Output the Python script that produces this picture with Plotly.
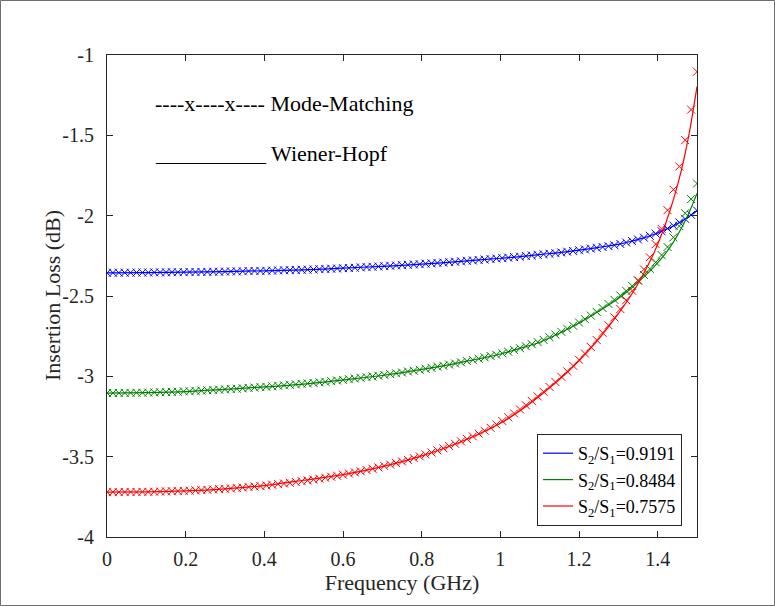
import numpy as np
import plotly.graph_objects as go

# Frequency sweep (GHz) used by the mode-matching solution
freq_mm = np.linspace(0.0, 1.5, 101)

# Insertion loss (dB) from mode-matching, one list per area ratio
il_mm_9191 = [
    -2.356, -2.355, -2.355, -2.355, -2.355, -2.354, -2.354, -2.354, -2.353, -2.353,
    -2.353, -2.352, -2.352, -2.352, -2.351, -2.351, -2.350, -2.350, -2.349, -2.349,
    -2.348, -2.347, -2.347, -2.346, -2.345, -2.344, -2.344, -2.343, -2.342, -2.341,
    -2.340, -2.339, -2.338, -2.337, -2.336, -2.335, -2.333, -2.332, -2.330, -2.329,
    -2.327, -2.326, -2.324, -2.322, -2.320, -2.318, -2.316, -2.314, -2.312, -2.310,
    -2.308, -2.306, -2.304, -2.302, -2.299, -2.297, -2.294, -2.292, -2.289, -2.287,
    -2.284, -2.281, -2.279, -2.276, -2.273, -2.270, -2.267, -2.264, -2.261, -2.258,
    -2.255, -2.251, -2.248, -2.244, -2.240, -2.237, -2.233, -2.229, -2.224, -2.220,
    -2.215, -2.210, -2.205, -2.200, -2.195, -2.190, -2.184, -2.176, -2.167, -2.158,
    -2.148, -2.137, -2.125, -2.112, -2.097, -2.080, -2.062, -2.042, -2.020, -1.995,
    -1.968,
]
il_mm_8484 = [
    -3.104, -3.104, -3.104, -3.103, -3.103, -3.102, -3.102, -3.101, -3.100, -3.099,
    -3.098, -3.097, -3.096, -3.094, -3.093, -3.091, -3.089, -3.087, -3.085, -3.083,
    -3.081, -3.079, -3.077, -3.075, -3.072, -3.070, -3.067, -3.065, -3.062, -3.059,
    -3.056, -3.053, -3.050, -3.047, -3.044, -3.041, -3.037, -3.034, -3.030, -3.026,
    -3.022, -3.018, -3.014, -3.010, -3.005, -3.001, -2.996, -2.991, -2.986, -2.981,
    -2.976, -2.970, -2.965, -2.959, -2.953, -2.947, -2.940, -2.934, -2.927, -2.920,
    -2.913, -2.905, -2.898, -2.890, -2.882, -2.873, -2.866, -2.857, -2.847, -2.836,
    -2.825, -2.813, -2.800, -2.787, -2.773, -2.757, -2.740, -2.723, -2.704, -2.685,
    -2.665, -2.644, -2.622, -2.599, -2.575, -2.550, -2.524, -2.497, -2.468, -2.437,
    -2.404, -2.369, -2.331, -2.290, -2.245, -2.195, -2.135, -2.065, -1.985, -1.897,
    -1.800,
]
il_mm_7575 = [
    -3.721, -3.721, -3.721, -3.720, -3.720, -3.720, -3.719, -3.719, -3.718, -3.717,
    -3.716, -3.715, -3.714, -3.713, -3.712, -3.710, -3.708, -3.706, -3.704, -3.702,
    -3.700, -3.698, -3.695, -3.692, -3.689, -3.686, -3.683, -3.679, -3.675, -3.671,
    -3.667, -3.663, -3.658, -3.653, -3.648, -3.643, -3.637, -3.631, -3.625, -3.619,
    -3.612, -3.605, -3.598, -3.591, -3.583, -3.575, -3.567, -3.558, -3.549, -3.540,
    -3.530, -3.520, -3.509, -3.498, -3.486, -3.474, -3.461, -3.448, -3.434, -3.420,
    -3.405, -3.390, -3.374, -3.357, -3.339, -3.320, -3.300, -3.278, -3.255, -3.231,
    -3.206, -3.180, -3.153, -3.125, -3.096, -3.066, -3.035, -3.003, -2.969, -2.934,
    -2.897, -2.858, -2.817, -2.774, -2.729, -2.682, -2.633, -2.581, -2.526, -2.467,
    -2.403, -2.334, -2.259, -2.177, -2.082, -1.966, -1.838, -1.694, -1.530, -1.340,
    -1.104,
]

# Wiener-Hopf solution (GHz, dB)
freq_wh = [0.0, 0.1, 0.2, 0.3, 0.4, 0.5, 0.6, 0.7, 0.8, 0.9, 1.0, 1.05, 1.1,
           1.15, 1.2, 1.25, 1.3, 1.33, 1.36, 1.39, 1.42, 1.44, 1.46, 1.48, 1.5]
il_wh_9191 = [-2.356, -2.354, -2.352, -2.348, -2.343, -2.337, -2.327, -2.315,
              -2.302, -2.284, -2.265, -2.255, -2.242, -2.230, -2.215, -2.197,
              -2.179, -2.161, -2.141, -2.117, -2.086, -2.064, -2.036, -2.005,
              -1.970]
il_wh_8484 = [-3.104, -3.101, -3.095, -3.081, -3.066, -3.048, -3.022, -2.995,
              -2.957, -2.913, -2.861, -2.826, -2.788, -2.732, -2.668, -2.595,
              -2.515, -2.458, -2.392, -2.320, -2.235, -2.165, -2.080, -1.980,
              -1.862]
il_wh_7575 = [-3.721, -3.719, -3.713, -3.700, -3.680, -3.647, -3.612, -3.562,
              -3.495, -3.407, -3.292, -3.214, -3.122, -3.020, -2.903, -2.768,
              -2.610, -2.505, -2.380, -2.235, -2.050, -1.900, -1.720, -1.490,
              -1.197]

ratio_labels = ["S<sub>2</sub>/S<sub>1</sub>=0.9191",
                "S<sub>2</sub>/S<sub>1</sub>=0.8484",
                "S<sub>2</sub>/S<sub>1</sub>=0.7575"]
colors = ["#0000FF", "#008000", "#FF0000"]

x_ticks = [0, 0.2, 0.4, 0.6, 0.8, 1.0, 1.2, 1.4]
x_tick_text = ["0", "0.2", "0.4", "0.6", "0.8", "1", "1.2", "1.4"]
y_ticks = [-4, -3.5, -3, -2.5, -2, -1.5, -1]
y_tick_text = ["-4", "-3.5", "-3", "-2.5", "-2", "-1.5", "-1"]

FONT = "Liberation Serif, Times New Roman, serif"
W, H = 775, 606
ML, MR, MT, MB = 107, 78, 55, 69
PW, PH = W - ML - MR, H - MT - MB


def px_x(px):
    return (px - ML) / PW


def px_y(py):
    return (H - MB - py) / PH


fig = go.Figure()

mm_sets = [il_mm_9191, il_mm_8484, il_mm_7575]
wh_sets = [il_wh_9191, il_wh_8484, il_wh_7575]

for name, col, mm, wh in zip(ratio_labels, colors, mm_sets, wh_sets):
    fig.add_trace(go.Scatter(
        x=freq_mm, y=mm, mode="markers", showlegend=False,
        marker=dict(symbol="x-thin", size=8, line=dict(color=col, width=1)),
        hoverinfo="skip",
    ))
    fig.add_trace(go.Scatter(
        x=freq_wh, y=wh, mode="lines", name=name,
        line=dict(color=col, width=1.2, shape="spline", smoothing=0.8),
    ))

axis_common = dict(
    showline=True, linecolor="#262626", linewidth=1, mirror="ticks",
    ticks="inside", ticklen=6, tickcolor="#262626", tickwidth=1,
    showgrid=False, zeroline=False,
    tickfont=dict(family=FONT, size=20, color="#262626"),
)

fig.update_xaxes(
    range=[0, 1.5], tickvals=x_ticks, ticktext=x_tick_text,
    title=dict(text="Frequency (GHz)", standoff=1,
               font=dict(family=FONT, size=22, color="#262626")),
    ticklabelstandoff=4, **axis_common,
)
fig.update_yaxes(
    range=[-4, -1], tickvals=y_ticks, ticktext=y_tick_text,
    ticklabelstandoff=8, **axis_common,
)

# y-axis title placed as rotated text beside the tick labels
fig.add_annotation(
    xref="paper", yref="paper", x=px_x(52), y=0.5,
    xanchor="center", yanchor="middle", showarrow=False, textangle=-90,
    text="Insertion Loss (dB)",
    font=dict(family=FONT, size=22, color="#262626"),
)

fig.add_annotation(
    xref="paper", yref="paper", x=px_x(153), y=px_y(103),
    xanchor="left", yanchor="middle", showarrow=False,
    text="----x----x---- Mode-Matching",
    font=dict(family=FONT, size=22, color="black"),
)
fig.add_annotation(
    xref="paper", yref="paper", x=px_x(153), y=px_y(153),
    xanchor="left", yanchor="middle", showarrow=False,
    text="__________ Wiener-Hopf",
    font=dict(family=FONT, size=22, color="black"),
)

# outer frame of the figure
fig.add_shape(
    type="rect", xref="paper", yref="paper",
    x0=px_x(0.5), x1=px_x(774.5), y0=px_y(605.5), y1=px_y(0.5),
    line=dict(color="#6e6e6e", width=1), fillcolor="rgba(0,0,0,0)",
    layer="below",
)

fig.update_layout(
    width=W, height=H, autosize=False,
    margin=dict(l=ML, r=MR, t=MT, b=MB, autoexpand=False),
    paper_bgcolor="white", plot_bgcolor="white",
    showlegend=True,
    legend=dict(
        x=px_x(537), y=px_y(434), xanchor="left", yanchor="top",
        bgcolor="white", bordercolor="#262626", borderwidth=1,
        font=dict(family=FONT, size=18, color="black"),
        itemwidth=30, tracegroupgap=0,
    ),
)

fig.write_html("out.html")
